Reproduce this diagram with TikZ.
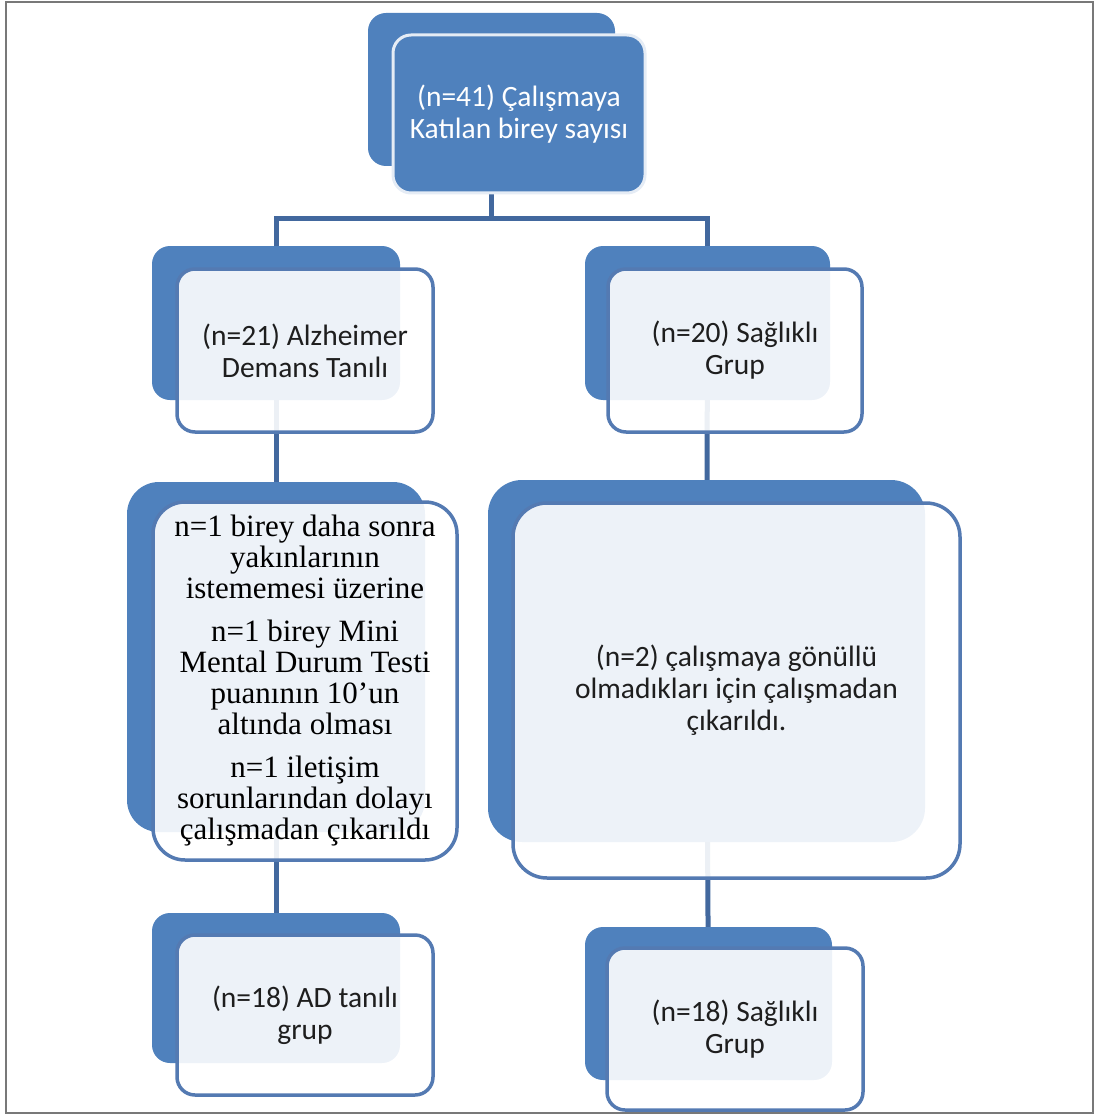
\documentclass[tikz,border=0pt]{standalone}
\usepackage{fontspec}
\setmainfont{Carlito}
\newfontfamily\tnr{Liberation Serif}
\pgfdeclarelayer{bg}
\pgfsetlayers{bg,main}
\definecolor{accent}{RGB}{79,129,189}
\definecolor{edge}{RGB}{84,122,178}
\definecolor{connc}{RGB}{66,104,158}
\definecolor{txt}{RGB}{30,30,30}
\definecolor{frame}{RGB}{120,120,120}
\tikzset{
  backbox/.style={draw=none, fill=accent, rounded corners=#1, minimum width=0, inner sep=0pt},
  backbox/.default=18pt,
  frontbox/.style={draw=edge, line width=3.5pt, fill=white, fill opacity=0.9, text opacity=1,
     rounded corners=#1, inner sep=0pt, align=center, text=txt,
     font=\fontsize{29.5}{32}\selectfont},
  frontbox/.default=18pt,
  topfront/.style={draw=white!85!accent, line width=3pt, fill=accent, rounded corners=18pt,
     inner sep=0pt, align=center, text=white, font=\fontsize{29.5}{32}\selectfont},
  conn/.style={draw=connc, line width=5pt}
}
\begin{document}
\begin{tikzpicture}[x=1pt,y=1pt]
\useasboundingbox (0,0) rectangle (1094,-1115);
\draw[frame, line width=2pt] (6,-2) rectangle (1093,-1113);

% top
\node[backbox, minimum width=247pt, minimum height=153pt] (topb) at (491.5,-89.5) {};
\node[topfront, minimum width=252pt, minimum height=158pt] (top) at (519,-114)
  {(n=41) Çalışmaya\\Katılan birey sayısı};

% level 2
\node[backbox, minimum width=248pt, minimum height=154pt] (adb) at (276,-323) {};
\node[frontbox, minimum width=256pt, minimum height=163pt] (ad) at (305,-350.5)
  {(n=21) Alzheimer\\Demans Tanılı};
\node[backbox, minimum width=245pt, minimum height=154pt] (hcb) at (707.5,-323) {};
\node[frontbox, minimum width=254pt, minimum height=163pt] (hc) at (735,-350.5)
  {(n=20) Sağlıklı\\Grup};

% level 3
\node[backbox=32pt, minimum width=298pt, minimum height=350pt] (exb) at (276,-657) {};
\node[frontbox=32pt, minimum width=304pt, minimum height=358pt,
      font=\tnr\fontsize{31}{31}\selectfont, text=black] (ex) at (305,-681)
  {n=1 birey daha sonra\\yakınlarının\\istememesi üzerine\\[12pt]
   n=1 birey Mini\\Mental Durum Testi\\puanının 10’un\\altında olması\\[12pt]
   n=1 iletişim\\sorunlarından dolayı\\çalışmadan çıkarıldı};
\node[backbox=34pt, minimum width=437pt, minimum height=362pt] (exrb) at (706.5,-661) {};
\node[frontbox=34pt, minimum width=447pt, minimum height=375pt] (exr) at (736.5,-690.5)
  {(n=2) çalışmaya gönüllü\\olmadıkları için çalışmadan\\çıkarıldı.};

% level 4
\node[backbox, minimum width=248pt, minimum height=150pt] (adfb) at (276,-988) {};
\node[frontbox, minimum width=256pt, minimum height=160pt] (adf) at (305,-1015)
  {(n=18) AD tanılı\\grup};
\node[backbox, minimum width=247pt, minimum height=153pt] (hcfb) at (708.5,-1003.5) {};
\node[frontbox, minimum width=256pt, minimum height=162pt] (hcf) at (735,-1029)
  {(n=18) Sağlıklı\\Grup};

\begin{pgfonlayer}{bg}
\coordinate (hbar) at (0,-219);
\draw[conn] (topb.center) -- (topb.center |- hbar);
\draw[conn] (adb.center) -- (adb.center |- hbar) -- (hcb.center |- hbar) -- (hcb.center);
\draw[conn] (adb.center) -- (exb.center);
\draw[conn] (exb.center) -- (adfb.center);
\draw[conn] (hcb.center) -- (exrb.center);
\draw[conn] (exrb.center) -- (hcfb.center);
\end{pgfonlayer}
\end{tikzpicture}
\end{document}
